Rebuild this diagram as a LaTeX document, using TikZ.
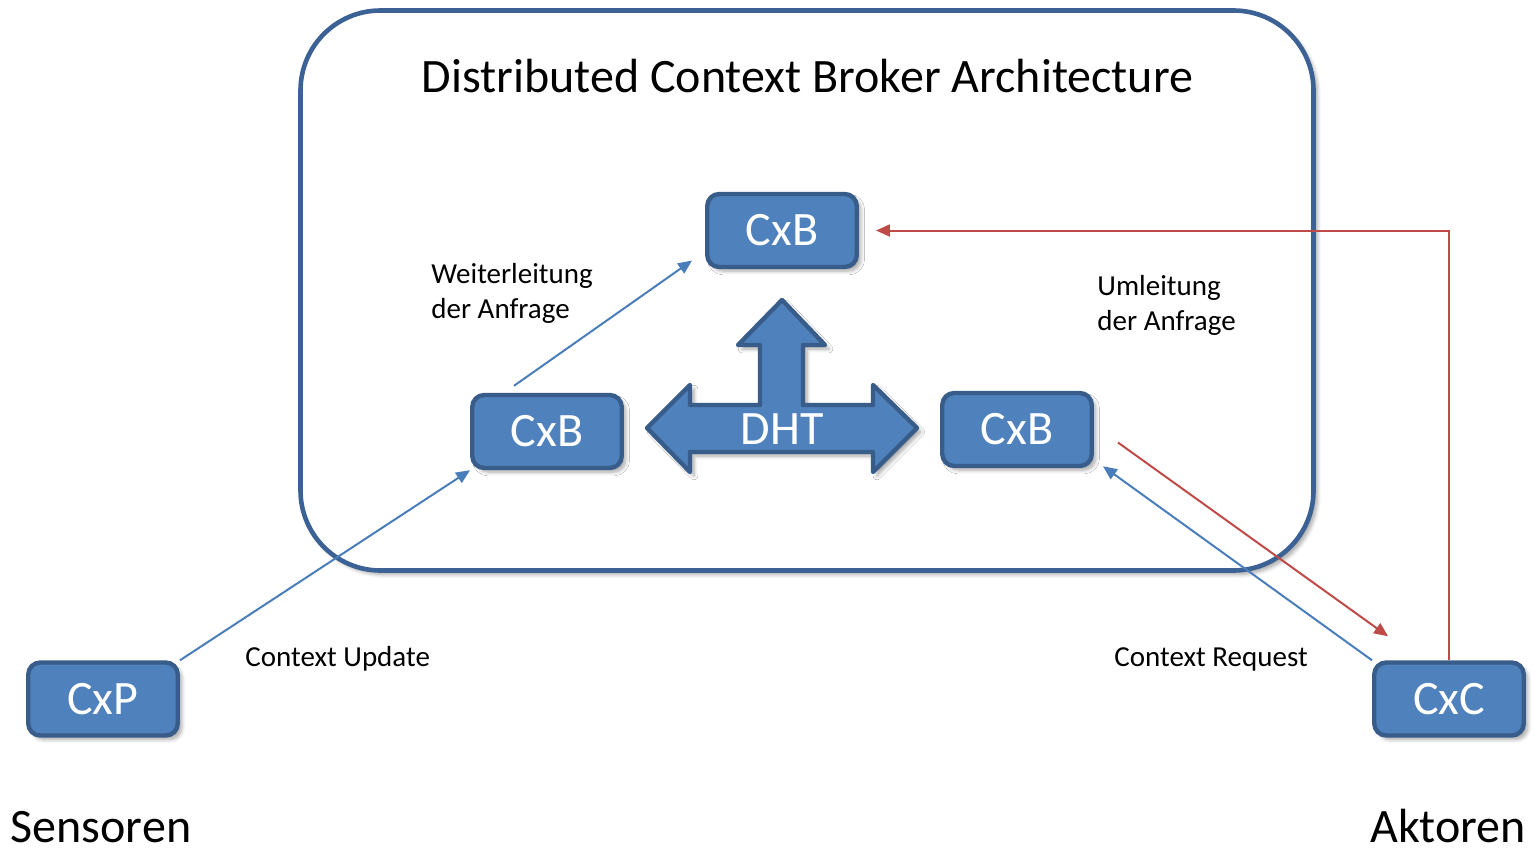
\documentclass[tikz,border=0pt]{standalone}
\usepackage{fontspec}
\setmainfont{Carlito}
\usetikzlibrary{arrows.meta,shadows.blur}
\definecolor{boxfill}{HTML}{4F81BD}
\definecolor{boxline}{HTML}{385D8A}
\definecolor{frameline}{HTML}{3C6194}
\definecolor{bluearrow}{HTML}{4A7EBB}
\definecolor{redarrow}{HTML}{BE4B48}
\begin{document}
\begin{tikzpicture}[x=0.5pt,y=-0.5pt,
  softshadow/.style={blur shadow={shadow xshift=2pt, shadow yshift=-2pt, shadow blur steps=6, shadow opacity=35}},
  block/.style={draw=boxline, fill=boxfill, line width=2.2pt, rounded corners=6pt, text=white,
    font=\fontsize{24}{28}\selectfont, minimum width=74.75pt, minimum height=36.5pt, inner sep=0pt, softshadow},
  lbl/.style={font=\fontsize{14.5}{17.5}\selectfont, align=left, inner sep=0pt},
  bigtext/.style={font=\fontsize{24}{28}\selectfont, inner sep=0pt},
  bluecon/.style={draw=bluearrow, line width=1pt, -{Triangle[length=7pt,width=6pt]}},
  redcon/.style={draw=redarrow, line width=1pt, -{Triangle[length=7pt,width=6pt]}}
]
\useasboundingbox (0,0) rectangle (1535,851);

% frame
\node[draw=frameline, fill=white, line width=2.3pt, rounded corners=40pt,
  minimum width=506.5pt, minimum height=280pt, inner sep=0pt, softshadow] (frame) at (807,290.5) {};
\node[bigtext, anchor=base] (title) at (807.5,92) {Distributed Context Broker Architecture};

% DHT arrow
\path[draw=boxline, fill=boxfill, line width=2.2pt, line join=round, softshadow]
  (647,428) -- (690,385) -- (690,405) -- (760,405) -- (760,345) -- (738,345) -- (782,300)
  -- (825,345) -- (803,345) -- (803,405) -- (873,405) -- (873,385) -- (917,428)
  -- (873,472) -- (873,452) -- (690,452) -- (690,472) -- cycle;
\node[bigtext, text=white] (dht) at (782,429) {DHT};

% blocks
\node[block] (cxbt) at (782,230.5) {CxB};
\node[block] (cxbl) at (547,431.5) {CxB};
\node[block] (cxbr) at (1017,429.5) {CxB};
\node[block] (cxp) at (103,699) {CxP};
\node[block] (cxc) at (1449,699) {CxC};

% connectors
\draw[bluecon] (cxp.north east) -- (cxbl.south west);
\draw[bluecon] ([xshift=-16.5pt,yshift=3.5pt]cxbl.north) -- ([xshift=-6.5pt,yshift=-15pt]cxbt.west);
\draw[bluecon] (cxc.north west) -- ([xshift=4.5pt,yshift=1pt]cxbr.south east);
\draw[redcon] ([xshift=12pt,yshift=-6.5pt]cxbr.east) -- ([xshift=8pt,yshift=12pt]cxc.north west);
\draw[redcon] (cxc.north) |- ([xshift=8.5pt]cxbt.east);

% labels
\node[lbl, anchor=base west] (weiter) at (431,318) {Weiterleitung\\der Anfrage};
\node[lbl, anchor=base west] (umleit) at (1097,330) {Umleitung\\der Anfrage};
\node[lbl, anchor=base west] (cupd) at (245,666) {Context Update};
\node[lbl, anchor=base west] (creq) at (1114,666) {Context Request};
\node[bigtext, anchor=base] (sens) at (101,842) {Sensoren};
\node[bigtext, anchor=base] (akt) at (1448,842) {Aktoren};
\end{tikzpicture}
\end{document}
